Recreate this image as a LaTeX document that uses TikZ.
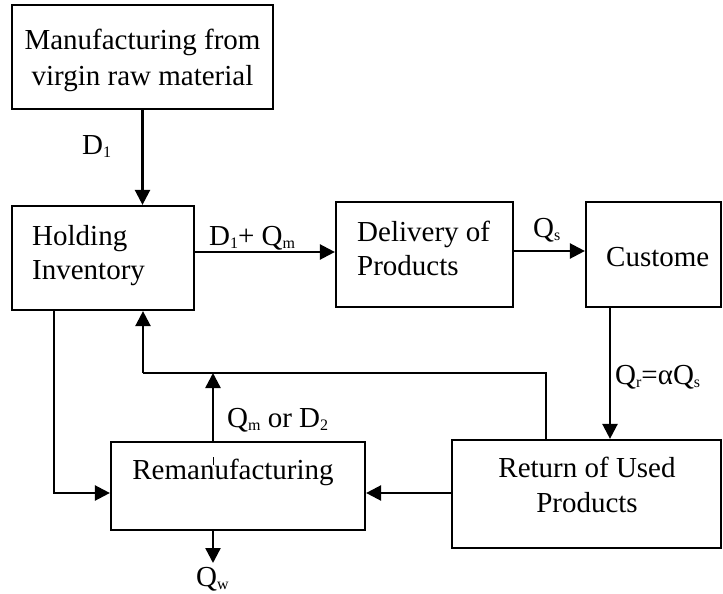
\documentclass[tikz,border=0pt]{standalone}
\usepackage{fontspec}
\setmainfont{Liberation Serif}
\usetikzlibrary{arrows.meta}
\newcommand\lsub[1]{\raisebox{-3pt}{\fontsize{16}{16}\selectfont #1}}
\begin{document}
\begin{tikzpicture}[x=1pt,y=-1pt,
  box/.style={draw,line width=2.2pt,inner sep=0pt},
  txt/.style={inner sep=0pt,font=\fontsize{29}{34}\selectfont},
  lbl/.style={inner sep=0pt,anchor=base west,font=\fontsize{29}{34}\selectfont},
  arr/.style={line width=2.4pt,-{Triangle[length=15pt,width=15pt]}},
  ln/.style={line width=2.4pt}]
\useasboundingbox (0,0) rectangle (723,594);
% boxes
\node[box,minimum width=261pt,minimum height=104pt] (mfg) at (142.5,57) {};
\node[box,minimum width=182pt,minimum height=104pt] (hold) at (103,258) {};
\node[box,minimum width=177pt,minimum height=105pt] (deliv) at (424.5,254.5) {};
\node[box,minimum width=135pt,minimum height=105pt] (cust) at (653.5,254.5) {};
\node[box,minimum width=254pt,minimum height=88pt] (reman) at (238,486) {};
\node[box,minimum width=269pt,minimum height=108pt] (ret) at (586.5,494) {};
% texts
\node[txt,anchor=base] (mfgA) at (142.5,50) {Manufacturing from};
\node[txt,anchor=base] (mfgB) at (142.5,85) {virgin raw material};
\node[txt,anchor=base west] (holdA) at (32,245) {Holding};
\node[txt,anchor=base west] (holdB) at (32,279) {Inventory};
\node[txt,anchor=base west] (delA) at (357,241) {Delivery of};
\node[txt,anchor=base west] (delB) at (357,275) {Products};
\node[txt,anchor=base west] (custT) at (606,266) {Custome};
\node[txt,anchor=base] (remT) at (233,479) {Remanufacturing};
\node[txt,anchor=base] (retA) at (587,477) {Return of Used};
\node[txt,anchor=base] (retB) at (587,512) {Products};
\draw[line width=1pt] (213,457) -- (213,465);
% junction coordinates
\coordinate (jA) at (143,373);
\coordinate (jB) at (213,373);
\coordinate (qwEnd) at (213,563);
% connectors
\draw[arr] (mfg.south) -- (mfg.south |- hold.north);
\draw[arr] (hold.east |- 0,252) -- (deliv.west |- 0,252);
\draw[arr] (deliv.east |- 0,251) -- (cust.west |- 0,251);
\draw[arr] (cust.south -| 610,0) -- (ret.north -| 610,0);
\draw[arr] (ret.west |- 0,493) -- (reman.east |- 0,493);
\draw[arr] (hold.south -| 54,0) |- (reman.west |- 0,493);
\draw[ln] (ret.north -| 546,0) |- (jA);
\draw[arr] (jA) -- (hold.south -| jA);
\draw[arr] (reman.north -| jB) -- (jB);
\draw[arr] (reman.south -| qwEnd) -- (qwEnd);
% labels
\node[lbl] (lD1) at (82,154) {D\lsub{1}};
\node[lbl] (lDQ) at (209,245) {D\lsub{1}+ Q\lsub{m}};
\node[lbl] (lQs) at (533,237) {Q\lsub{s}};
\node[lbl] (lQr) at (615,384) {Q\lsub{r}=αQ\lsub{s}};
\node[lbl] (lQm) at (227,427) {Q\lsub{m} or D\lsub{2}};
\node[lbl] (lQw) at (196,586) {Q\lsub{w}};
\end{tikzpicture}
\end{document}
